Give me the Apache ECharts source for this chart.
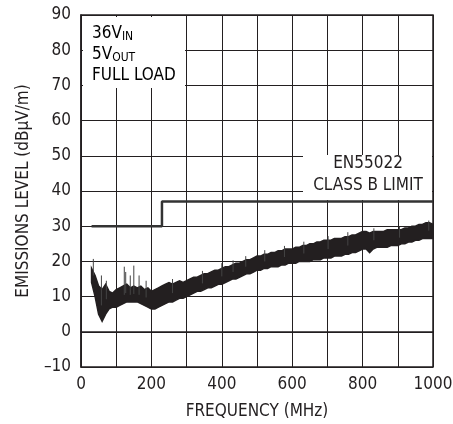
<!DOCTYPE html>
<html><head><meta charset="utf-8">
<script src="https://cdn.jsdelivr.net/npm/echarts@6/dist/echarts.min.js"></script>
<style>html,body{margin:0;padding:0;background:#fff}#c{width:453px;height:424px}</style>
</head><body><div id="c"></div>
<script>
const freq = [30,40,50,60,70,80,90,100,110,120,130,140,150,160,170,180,190,200,210,220,230,240,250,260,270,280,290,300,310,320,330,340,350,360,370,380,390,400,410,420,430,440,450,460,470,480,490,500,510,520,530,540,550,560,570,580,590,600,610,620,630,640,650,660,670,680,690,700,710,720,730,740,750,760,770,780,790,800,810,820,830,840,850,860,870,880,890,900,910,920,930,940,950,960,970,980,990,1000];
const upper = [18.0,16.0,13.0,12.0,13.5,11.5,11.0,12.0,12.5,13.0,13.5,12.5,13.0,12.5,13.0,12.0,12.5,11.5,12.0,12.5,13.0,13.5,14.0,13.5,14.0,14.5,14.0,14.5,15.0,15.5,15.5,16.0,16.5,16.5,17.0,17.5,17.5,18.0,18.5,18.5,19.0,19.5,19.5,20.0,20.5,20.5,21.0,21.5,21.5,22.0,22.0,22.5,22.5,23.0,23.0,23.5,23.5,23.5,24.0,24.0,24.5,24.5,25.0,25.0,25.5,25.5,26.0,26.0,26.0,26.5,26.5,26.5,27.0,27.0,27.5,27.5,28.0,28.5,28.5,28.0,28.5,28.5,28.5,28.5,29.0,29.0,29.0,29.0,29.0,29.5,29.5,30.0,30.0,30.5,30.5,31.0,31.0,30.5];
const lower = [14.0,10.0,5.0,3.0,5.0,6.5,7.0,7.0,7.5,8.0,8.5,8.5,8.5,8.5,8.0,7.5,7.0,6.5,6.5,7.0,7.5,8.0,8.5,8.5,9.0,9.5,9.5,10.0,10.5,11.0,11.5,11.5,12.0,12.5,12.5,13.0,13.5,13.5,14.0,14.5,15.0,15.0,15.5,16.0,16.5,16.5,17.0,17.5,17.5,18.0,18.0,18.5,18.5,18.5,19.0,19.0,19.5,19.5,19.5,20.0,20.0,20.0,20.0,20.5,20.5,20.5,21.0,21.0,21.0,21.5,21.5,21.5,22.0,22.0,22.5,22.5,23.0,23.5,23.5,22.5,23.5,24.0,24.0,24.0,24.0,24.5,24.5,24.5,25.0,25.0,25.5,25.5,26.0,26.0,26.5,26.5,26.5,26.5];
const spikeFreq = [35,58,72,123,127,140,150,165,185,260,345,400,432,468,522,578,633,702,758,832,905,988];
const spikeTop  = [20.7,16.0,14.5,18.5,17.0,16.0,18.8,16.0,14.5,15.0,17.3,19.5,20.3,21.5,23.2,24.4,25.6,27.2,28.3,29.4,29.8,31.6];
const limitFreq = [30,230,1000];
const limitVal  = [30,37,37];
const yTicks = [-10,0,10,20,30,40,50,60,70,80,90];
const xTickLabels = [0,200,400,600,800,1000];

const FONT = "'Liberation Sans Narrow','DejaVu Sans Condensed','Liberation Sans',sans-serif";
const INK = '#231f20';
const chart = echarts.init(document.getElementById('c'), null, {renderer:'canvas'});

chart.setOption({
  animation:false,
  grid:{left:81,right:20,top:15,bottom:57,outerBoundsMode:'none',containLabel:false,show:true,borderColor:INK,borderWidth:1.5,backgroundColor:'transparent'},
  xAxis:{type:'value',min:0,max:1000,interval:100,
    name:'FREQUENCY (MHz)',nameLocation:'middle',nameGap:36,
    nameTextStyle:{fontFamily:FONT,fontSize:17,color:INK},
    axisLine:{show:true,lineStyle:{color:INK,width:1.5}},
    axisTick:{show:false},
    axisLabel:{margin:9,fontFamily:FONT,fontSize:17,color:INK,
      formatter:v=>xTickLabels.indexOf(v)>=0?String(v):''},
    splitLine:{show:true,lineStyle:{color:INK,width:1}}},
  yAxis:{type:'value',min:yTicks[0],max:yTicks[yTicks.length-1],interval:10,
    name:'EMISSIONS LEVEL (dBµV/m)',nameLocation:'middle',nameGap:49,
    nameTextStyle:{fontFamily:FONT,fontSize:17,color:INK},
    axisLine:{show:true,lineStyle:{color:INK,width:1.5}},
    axisTick:{show:false},
    axisLabel:{margin:10,fontFamily:FONT,fontSize:17,color:INK,
      formatter:v=>v<0?'\u2013'+Math.abs(v):String(v)},
    splitLine:{show:true,lineStyle:{color:INK,width:1}}},
  series:[
    {type:'custom',clip:true,data:[[0,0]],z:3,
      renderItem:(params,api)=>{
        const pts=[];
        for(let i=0;i<freq.length;i++) pts.push(api.coord([freq[i],upper[i]]));
        for(let i=freq.length-1;i>=0;i--) pts.push(api.coord([freq[i],lower[i]]));
        return {type:'polygon',shape:{points:pts},style:{fill:INK,stroke:INK,lineWidth:1.5}};
      }},
    {type:'custom',clip:true,z:3,
      data:spikeFreq.map((f,i)=>[f,spikeTop[i]]),
      renderItem:(params,api)=>{
        const f=api.value(0),t=api.value(1);
        let k=0,d=1e9;
        freq.forEach((q,j)=>{if(Math.abs(q-f)<d){d=Math.abs(q-f);k=j;}});
        const base=(upper[k]+lower[k])/2;
        const a=api.coord([f,t]),b=api.coord([f,base]);
        return {type:'line',shape:{x1:a[0],y1:a[1],x2:b[0],y2:b[1]},style:{stroke:'#444',lineWidth:1}};
      }},
    {type:'line',step:'end',showSymbol:false,z:4,
      data:limitFreq.map((f,i)=>[f,limitVal[i]]),
      lineStyle:{color:'#333',width:2.5}}
  ],
  graphic:[
    {type:'rect',z:10,shape:{x:83,y:17,width:102,height:71},style:{fill:'#fff'}},
    {type:'text',z:11,x:92,y:23,style:{
      rich:{n:{fontFamily:FONT,fontSize:17,color:INK,lineHeight:21},
            s:{fontFamily:FONT,fontSize:12,color:INK,lineHeight:21,padding:[7,0,0,0]}},
      text:'{n|36V}{s|IN}\n{n|5V}{s|OUT}\n{n|FULL LOAD}'}},
    {type:'rect',z:10,shape:{x:303,y:155,width:129,height:45},style:{fill:'#fff'}},
    {type:'text',z:11,x:368,y:153,style:{fontFamily:FONT,fontSize:17,fill:INK,
      text:'EN55022\nCLASS B LIMIT',align:'center',verticalAlign:'top',lineHeight:22}}
  ]
});
</script></body></html>
